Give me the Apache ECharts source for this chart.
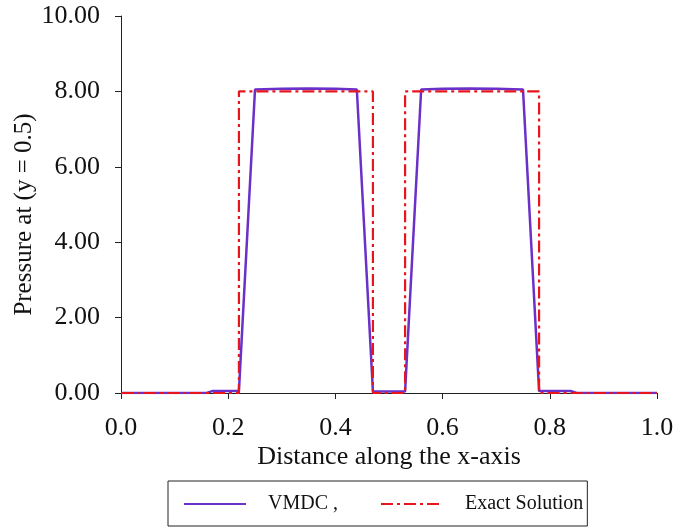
<!DOCTYPE html>
<html>
<head>
<meta charset="utf-8">
<script src="https://cdn.jsdelivr.net/npm/echarts@6/dist/echarts.min.js"></script>
<style>html,body{margin:0;padding:0;background:#fff}#c{width:678px;height:529px}</style>
</head>
<body>
<div id="c"></div>
<script>
// VMDC numerical solution
var vmdcX = [0, 0.16, 0.17, 0.21, 0.22, 0.25, 0.30, 0.35, 0.40, 0.44, 0.47, 0.50, 0.53, 0.56, 0.60, 0.65, 0.70, 0.75, 0.78, 0.84, 0.85, 1.0];
var vmdcY = [0, 0, 0.05, 0.05, 0.05, 8.05, 8.07, 8.08, 8.07, 8.05, 0.04, 0.04, 0.04, 8.05, 8.07, 8.08, 8.07, 8.05, 0.05, 0.05, 0, 0];
// Exact solution
var exactX = [0, 0.22, 0.22, 0.47, 0.47, 0.53, 0.53, 0.78, 0.78, 1.0];
var exactY = [0, 0, 8, 8, 0, 0, 8, 8, 0, 0];
var seriesNames = ['VMDC ,', 'Exact Solution'];
var xTicks = [0.0, 0.2, 0.4, 0.6, 0.8, 1.0];
var yTicks = [0, 2, 4, 6, 8, 10];

function zip(a, b) { return a.map(function (v, i) { return [v, b[i]]; }); }

var font = 'Liberation Serif';
var chart = echarts.init(document.getElementById('c'));
chart.setOption({
  animation: false,
  backgroundColor: '#fff',
  grid: { left: 121, right: 21, top: 16, bottom: 136 },
  legend: {
    left: 168, top: 481,
    padding: [13, 4, 12, 15],
    borderColor: '#222', borderWidth: 1,
    itemWidth: 62, itemHeight: 14, itemGap: 42,
    itemStyle: { opacity: 0 },
    textStyle: { fontFamily: font, fontSize: 20, color: '#111', padding: [0, 0, 0, 17] },
    data: seriesNames
  },
  xAxis: {
    type: 'value', min: 0, max: 1, interval: 0.2,
    name: 'Distance along the x-axis', nameLocation: 'middle', nameGap: 51,
    nameMoveOverlap: false,
    nameTextStyle: { fontFamily: font, fontSize: 26, color: '#111' },
    axisLine: { show: true, lineStyle: { color: '#222', width: 1 } },
    axisTick: { show: true, length: 6, lineStyle: { color: '#222' } },
    splitLine: { show: false },
    axisLabel: { fontFamily: font, fontSize: 26, color: '#111', margin: 22,
      formatter: function (v) { return v.toFixed(1); } }
  },
  yAxis: {
    type: 'value', min: 0, max: 10, interval: 2,
    name: 'Pressure at (y = 0.5)', nameLocation: 'middle', nameGap: 84,
    nameMoveOverlap: false,
    nameTextStyle: { fontFamily: font, fontSize: 25, color: '#111', padding: [0, 20, 0, 0] },
    axisLine: { show: true, lineStyle: { color: '#222', width: 1 } },
    axisTick: { show: true, length: 6, lineStyle: { color: '#222' } },
    splitLine: { show: false },
    axisLabel: { fontFamily: font, fontSize: 26, color: '#111', margin: 21,
      formatter: function (v) { return v.toFixed(2); } }
  },
  series: [
    { name: seriesNames[0], type: 'line', data: zip(vmdcX, vmdcY), symbol: 'none',
      lineStyle: { color: '#6a30c8', width: 2.5 }, itemStyle: { color: '#6a30c8' } },
    { name: seriesNames[1], type: 'line', data: zip(exactX, exactY), symbol: 'none',
      lineStyle: { color: '#e8161c', width: 2.2, type: [12, 4, 3, 4] }, itemStyle: { color: '#e8161c' } }
  ]
});
</script>
</body>
</html>
